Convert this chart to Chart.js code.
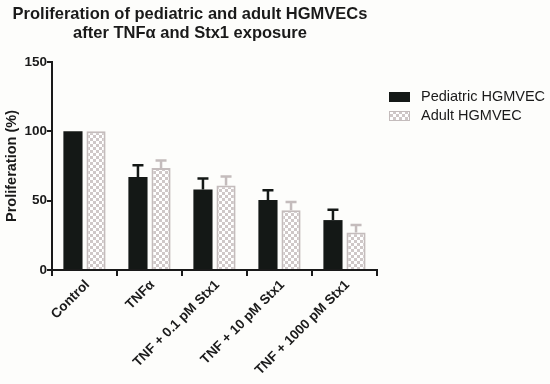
<!DOCTYPE html>
<html><head><meta charset="utf-8">
<script src="https://cdn.jsdelivr.net/npm/chart.js@4.4.0/dist/chart.umd.min.js"></script>
<style>html,body{margin:0;padding:0;background:#fdfdfb;}#wrap{width:550px;height:384px;}</style>
</head><body><div id="wrap"><canvas id="c" width="550" height="384"></canvas></div>
<script>
const categories = ["Control", "TNF\u03B1", "TNF + 0.1 pM Stx1", "TNF + 10 pM Stx1", "TNF + 1000 pM Stx1"];
const pediatric = [100, 67, 58, 50.5, 36];
const pediatricErr = [0, 8.5, 8, 7, 7.5];
const adult = [100, 73.5, 61, 43, 27];
const adultErr = [0, 5.5, 6.5, 6, 5.5];
const yTicks = [0, 50, 100, 150];
const seriesNames = ["Pediatric HGMVEC", "Adult HGMVEC"];
const titleLines = ["Proliferation of pediatric and adult HGMVECs", "after TNF\u03B1 and Stx1 exposure"];

function makePattern(){
  const p = document.createElement('canvas');
  p.width = 6; p.height = 6;
  const g = p.getContext('2d');
  g.fillStyle = '#ffffff'; g.fillRect(0,0,6,6);
  g.fillStyle = '#cfc8c8';
  g.fillRect(0,0,3,3); g.fillRect(3,3,3,3);
  return document.getElementById('c').getContext('2d').createPattern(p,'repeat');
}
const pattern = makePattern();
const FONT = '"Liberation Sans", Arial, sans-serif';

const errPlugin = {
  id:'err',
  afterDatasetsDraw(chart){
    const ctx = chart.ctx, y = chart.scales.y;
    const errs = [pediatricErr, adultErr];
    const cols = ['#141816', '#c4bcbc'];
    chart.data.datasets.forEach((ds, i) => {
      const meta = chart.getDatasetMeta(i);
      meta.data.forEach((bar, j) => {
        const e = errs[i][j];
        if (!e) return;
        const top = y.getPixelForValue(ds.data[j] + e);
        ctx.save();
        ctx.strokeStyle = cols[i]; ctx.lineWidth = 2.5;
        ctx.beginPath();
        ctx.moveTo(bar.x, bar.y); ctx.lineTo(bar.x, top);
        ctx.moveTo(bar.x - 5.5, top); ctx.lineTo(bar.x + 5.5, top);
        ctx.stroke();
        ctx.restore();
      });
    });
  }
};
const decoPlugin = {
  id:'deco',
  beforeDraw(chart){
    const ctx = chart.ctx;
    ctx.save(); ctx.fillStyle = '#fdfdfb'; ctx.fillRect(0,0,chart.width,chart.height); ctx.restore();
  },
  afterDraw(chart){
    const ctx = chart.ctx;
    ctx.save();
    ctx.fillStyle = '#1a1a1a';
    ctx.font = 'bold 16.5px ' + FONT;
    ctx.textAlign = 'center'; ctx.textBaseline = 'middle';
    ctx.fillText(titleLines[0], 190, 14);
    ctx.fillText(titleLines[1], 190, 33);
    // legend
    ctx.font = '14.5px ' + FONT;
    ctx.textAlign = 'left';
    ctx.fillStyle = '#141816';
    ctx.fillRect(389, 92, 21, 10);
    ctx.fillStyle = pattern;
    ctx.fillRect(389, 111, 21, 10);
    ctx.strokeStyle = '#c4bcbc'; ctx.lineWidth = 1;
    ctx.strokeRect(389.5, 111.5, 20, 9);
    ctx.fillStyle = '#1a1a1a';
    ctx.fillText(seriesNames[0], 421, 97);
    ctx.fillText(seriesNames[1], 421, 116);
    ctx.restore();
  }
};

new Chart(document.getElementById('c'), {
  type:'bar',
  data:{
    labels: categories,
    datasets:[
      {label:seriesNames[0], data:pediatric, backgroundColor:'#141816', borderColor:'#141816', borderWidth:0,
       barPercentage:0.83, categoryPercentage:0.71},
      {label:seriesNames[1], data:adult, backgroundColor:pattern, borderColor:'#c4bcbc', borderWidth:2,
       barPercentage:0.83, categoryPercentage:0.71}
    ]
  },
  options:{
    responsive:false, animation:false, devicePixelRatio:1,
    layout:{padding:{left:0, top:62, right:173, bottom:0}},
    plugins:{legend:{display:false}, title:{display:false}, tooltip:{enabled:false}},
    scales:{
      x:{
        grid:{display:true, drawOnChartArea:false, drawTicks:true, tickLength:6, color:'#1a1a1a', lineWidth:2},
        border:{display:true, color:'#1a1a1a', width:2},
        ticks:{minRotation:45, maxRotation:45, labelOffset:3, color:'#1a1a1a', font:{family:FONT, size:13.5, weight:'bold'}, padding:1},
        afterFit(s){ s.height = 114; }
      },
      y:{
        min:0, max:150,
        afterBuildTicks(s){ s.ticks = yTicks.map(v=>({value:v})); },
        grid:{display:true, drawOnChartArea:false, drawTicks:true, tickLength:5, color:'#1a1a1a', lineWidth:2},
        border:{display:true, color:'#1a1a1a', width:2},
        ticks:{color:'#1a1a1a', font:{family:FONT, size:13.5, weight:'bold'}, padding:0},
        title:{display:true, text:'Proliferation (%)', color:'#1a1a1a', font:{family:FONT, size:14.5, weight:'bold'}, padding:{top:3,bottom:0}},
        afterFit(s){ s.width = 52; }
      }
    }
  },
  plugins:[decoPlugin, errPlugin]
});
</script></body></html>
